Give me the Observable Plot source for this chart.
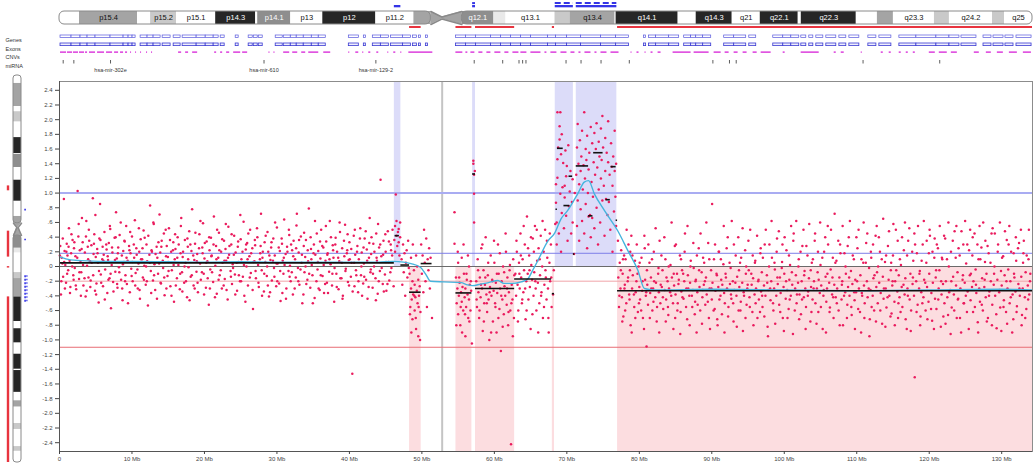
<!DOCTYPE html>
<html><head><meta charset="utf-8">
<script src="https://cdn.jsdelivr.net/npm/d3@7"></script>
<script src="https://cdn.jsdelivr.net/npm/@observablehq/plot@0.6"></script>
<style>
body{margin:0;background:#fff;}
#wrap{position:relative;width:1035px;height:469px;overflow:hidden;font-family:"Liberation Sans",Arial,sans-serif;}
#wrap svg{position:absolute;left:0;top:0;max-width:none;}
</style></head><body><div id="wrap"></div>
<script>
// ---------- DATA (genomic positions in Mb, log-ratio values) ----------
const chromLength = 134.25;
const centromereMb = 52.8;
const yTicks = [2.4,2.2,2.0,1.8,1.6,1.4,1.2,1.0,0.8,0.6,0.4,0.2,0,-0.2,-0.4,-0.6,-0.8,-1.0,-1.2,-1.4,-1.6,-1.8,-2.0,-2.2,-2.4];
const xTicks = [0,10,20,30,40,50,60,70,80,90,100,110,120,130];

// cytobands: [start, end, name, stain]
const bands = [
 [0,2.76,"","w"],[2.76,10.77,"p15.4","g50"],[10.77,12.57,"","w"],[12.57,16.16,"p15.2","g25"],
 [16.16,21.55,"p15.1","w"],[21.55,27.07,"p14.3","g100"],[27.07,27.35,"","w"],[27.35,31.91,"p14.1","g75"],
 [31.91,36.33,"p13","w"],[36.33,43.65,"p12","g100"],[43.65,48.90,"p11.2","w"],[48.90,51.24,"","g50"],
 [55.52,59.94,"q12.1","g75"],[59.94,61.60,"","g10"],[61.60,68.37,"q13.1","w"],[68.37,70.44,"","g25"],
 [70.44,76.66,"q13.4","g50"],[76.66,76.80,"","w"],[76.80,85.36,"q14.1","g100"],[85.36,87.85,"","w"],
 [87.85,92.82,"q14.3","g100"],[92.82,96.69,"q21","w"],[96.69,101.93,"q22.1","g100"],[101.93,102.35,"","w"],
 [102.35,109.94,"q22.3","g100"],[109.94,112.85,"","w"],[112.85,115.06,"","g50"],[115.06,120.72,"q23.3","w"],
 [120.72,122.79,"","g25"],[122.79,128.73,"q24.2","w"],[128.73,130.39,"","g25"],[130.39,134.25,"q25","w"]
];
const centromereBand = [51.24, 52.76, 55.52];

const gainRegions = [[46.2,47.1],[57.0,57.4],[68.4,70.9],[71.3,76.9]];
const lossRegions = [[48.3,49.9],[54.7,56.9],[57.4,62.8],[68.0,68.3],[77.0,134.25]];
const sideLoss = [[38.3,40.0],[54.0,63.0],[66.3,66.8],[76.8,134.25]];
const sideGain = [[46.4,47.0],[56.8,57.3],[69.5,79.0]];

// segment means: [start, end, value]
const segments = [
 [0,46.2,0.05],[46.3,46.9,0.42],[47.1,48.3,0.02],[48.3,49.9,-0.35],[49.9,51.4,0.04],
 [54.7,56.9,-0.36],[57.0,57.4,1.26],[57.4,62.8,-0.3],[62.8,67.9,-0.17],[68.0,68.3,-0.37],
 [68.5,68.7,0.78],[68.7,69.5,1.61],[69.6,70.4,0.83],[70.3,70.8,1.23],[70.9,71.1,0.17],
 [71.3,73.0,1.37],[73.0,73.6,0.69],[73.7,75.0,1.55],[75.4,76.0,0.91],[76.1,76.8,1.36],
 [76.8,77.0,0.63],[77.0,134.25,-0.33]
];

// smoothed trend
const smoothTrend = [
 [0,0.13],[1.5,0.09],[3,0.08],[6,0.07],[10,0.07],[15,0.065],[20,0.06],[25,0.065],[30,0.06],[35,0.06],
 [40,0.06],[44,0.06],[46,0.07],[47.5,0.06],[48.5,0.04],[49.8,-0.01],[50.5,-0.1],[51.2,-0.2],[53,-0.21],
 [55.4,-0.22],[56.3,-0.25],[57,-0.26],[58.1,-0.24],[59.2,-0.22],[60.5,-0.19],[61.3,-0.23],[62.5,-0.23],
 [63.7,-0.21],[64.6,-0.17],[65.3,-0.05],[66,0.08],[67.4,0.35],[68.3,0.45],[69.2,0.65],[70.1,0.76],
 [71.5,0.99],[72.4,1.15],[73,1.17],[73.8,0.99],[75.2,0.76],[77,0.49],[78.4,0.22],[79.8,-0.05],[80.7,-0.3],
 [82,-0.32],[90,-0.31],[100,-0.32],[110,-0.33],[120,-0.32],[130,-0.31],[134.2,-0.32]
];

// probes: [position, log ratio]
const probesPArm = [
[0.1,0.28],[0.2,-0.38],[0.3,0.12],[0.4,0.04],[0.5,-0.14],[0.6,0.92],[0.7,0.21],[0.8,0.02],[0.9,-0.22],
[1.0,0.31],[1.1,0.15],[1.2,-0.05],[1.3,0.52],[1.4,0.08],[1.5,-0.28],[1.6,0.18],[1.8,0.36],[1.9,-0.12],
[2.0,0.25],[2.1,-0.02],[2.2,0.14],[2.3,-0.31],[2.5,1.03],[2.6,0.41],[2.7,-0.17],[2.8,0.22],[2.9,0.06],
[3.0,-0.08],[3.1,0.66],[3.2,0.33],[3.3,-0.26],[3.5,0.19],[3.6,-0.41],[3.7,0.62],[3.8,0.01],[3.9,0.27],
[4.0,-0.15],[4.1,0.35],[4.2,0.07],[4.3,-0.19],[4.4,0.29],[4.6,0.93],[4.7,0.17],[4.8,0.44],[4.9,-0.33],
[5.0,0.13],[5.1,-0.23],[5.2,0.24],[5.3,0.05],[5.4,-0.49],[5.5,0.38],[5.6,0.85],[5.7,-0.11],[5.9,0.1],
[6.0,-0.27],[6.1,0.16],[6.2,0.47],[6.3,-0.04],[6.5,0.23],[6.6,-0.36],[6.7,0.09],[6.8,0.32],[6.9,-0.16],
[7.0,0.51],[7.1,-0.57],[7.2,0.02],[7.3,0.19],[7.4,-0.21],[7.6,0.39],[7.7,-0.07],[7.8,0.74],[7.9,0.11],
[8.0,-0.29],[8.1,0.26],[8.2,-0.01],[8.3,0.43],[8.5,-0.18],[8.6,0.15],[8.7,-0.46],[8.8,0.21],[8.9,0.06],
[9.0,0.34],[9.1,-0.12],[9.2,0.55],[9.3,-0.24],[9.4,0.08],[9.6,0.28],[9.7,-0.35],[9.8,0.18],[9.9,-0.03],
[10.0,0.41],[10.1,-0.2],[10.3,0.12],[10.4,0.63],[10.5,-0.09],[10.6,0.25],[10.8,-0.3],[10.9,0.04],
[11.0,0.2],[11.1,-0.44],[11.2,0.37],[11.4,0.1],[11.5,-0.15],[11.6,0.49],[11.7,0.01],[11.9,-0.25],
[12.0,0.3],[12.1,0.07],[12.2,-0.53],[12.4,0.16],[12.5,0.83],[12.6,-0.06],[12.7,0.22],[12.9,-0.19],
[13.0,0.58],[13.1,0.03],[13.2,-0.32],[13.4,0.27],[13.5,0.12],[13.6,-0.1],[13.8,0.71],[13.9,0.19],
[14.0,-0.23],[14.1,0.35],[14.3,-0.02],[14.4,0.45],[14.5,-0.39],[14.7,0.14],[14.8,0.28],[14.9,-0.13],
[15.0,0.06],[15.1,0.52],[15.3,-0.27],[15.4,0.2],[15.5,-0.05],[15.7,0.33],[15.8,-0.48],[15.9,0.1],
[16.0,0.24],[16.2,-0.16],[16.3,0.4],[16.4,0.02],[16.6,-0.31],[16.7,0.18],[16.8,0.66],[16.9,-0.08],
[17.0,0.13],[17.2,-0.22],[17.3,0.36],[17.4,0.05],[17.6,-0.42],[17.7,0.27],[17.8,-0.01],[17.9,0.48],
[18.1,-0.14],[18.2,0.21],[18.3,0.78],[18.5,-0.26],[18.6,0.09],[18.7,0.31],[18.9,-0.07],
[19.0,0.17],[19.1,-0.35],[19.3,0.44],[19.4,0.04],[19.5,-0.18],[19.7,0.26],[19.8,0.59],[19.9,-0.1],
[20.0,0.11],[20.2,-0.29],[20.3,0.34],[20.4,0.07],[20.6,-0.52],[20.7,0.22],[20.8,-0.04],[20.9,0.39],
[21.0,0.15],[21.2,-0.21],[21.3,0.68],[21.5,0.01],[21.6,0.28],[21.7,-0.37],[21.9,0.12],
[22.0,0.46],[22.1,-0.12],[22.3,0.2],[22.4,-0.3],[22.5,0.05],[22.7,0.35],[22.8,-0.17],[22.9,0.24],
[23.0,0.08],[23.2,-0.45],[23.3,0.54],[23.4,0.16],[23.6,-0.06],[23.7,0.3],[23.8,-0.24],[23.9,0.03],
[24.1,0.42],[24.2,-0.11],[24.3,0.19],[24.5,-0.33],[24.6,0.27],[24.7,0.06],[24.9,-0.2],
[25.0,0.37],[25.1,0.1],[25.3,-0.14],[25.4,0.61],[25.5,-0.4],[25.7,0.23],[25.8,0.0],[25.9,0.32],
[26.0,-0.26],[26.2,0.14],[26.3,0.5],[26.4,-0.09],[26.6,0.25],[26.7,-0.58],[26.9,0.07],
[27.0,0.29],[27.1,-0.16],[27.3,0.4],[27.4,0.02],[27.5,-0.28],[27.7,0.18],[27.8,0.72],[27.9,-0.05],
[28.0,0.12],[28.2,-0.34],[28.3,0.33],[28.4,0.06],[28.6,-0.13],[28.7,0.47],[28.8,0.2],[28.9,-0.41],
[29.1,0.09],[29.2,0.26],[29.3,-0.19],[29.5,0.38],[29.6,-0.02],[29.7,0.15],[29.9,-0.27],
[30.0,0.53],[30.1,0.04],[30.3,-0.23],[30.4,0.21],[30.5,-0.47],[30.7,0.31],[30.8,0.08],[30.9,-0.1],
[31.0,0.64],[31.2,0.17],[31.3,-0.3],[31.4,0.27],[31.6,-0.06],[31.7,0.43],[31.8,0.01],[31.9,-0.2],
[32.1,0.22],[32.2,-0.38],[32.3,0.35],[32.5,0.1],[32.6,-0.15],[32.7,0.56],[32.9,-0.02],
[33.0,0.19],[33.1,-0.25],[33.3,0.41],[33.4,0.05],[33.5,-0.5],[33.7,0.28],[33.8,-0.08],[33.9,0.13],
[34.0,0.36],[34.2,-0.18],[34.3,0.07],[34.4,0.79],[34.6,-0.29],[34.7,0.24],[34.8,0.02],[34.9,-0.12],
[35.1,0.3],[35.2,-0.43],[35.3,0.16],[35.5,0.45],[35.6,-0.04],[35.7,0.21],[35.9,-0.32],
[36.0,0.11],[36.1,0.5],[36.3,-0.13],[36.4,0.26],[36.5,-0.36],[36.7,0.08],[36.8,0.34],[36.9,-0.22],
[37.0,0.18],[37.2,-0.07],[37.3,0.62],[37.4,0.03],[37.6,-0.26],[37.7,0.29],[37.8,0.12],[37.9,-0.48],
[38.1,0.39],[38.2,-0.1],[38.3,0.2],[38.5,-0.31],[38.6,0.07],[38.7,0.47],[38.9,-0.16],
[39.0,0.25],[39.1,-0.4],[39.3,0.14],[39.4,0.57],[39.5,-0.03],[39.7,0.22],[39.8,-0.21],[39.9,0.09],
[40.0,0.33],[40.2,-0.14],[40.3,0.05],[40.4,-1.46],[40.6,0.42],[40.7,-0.27],[40.8,0.16],[40.9,-0.05],
[41.1,0.28],[41.2,-0.35],[41.3,0.1],[41.5,0.52],[41.6,-0.12],[41.7,0.19],[41.9,-0.23],
[42.0,0.04],[42.1,0.38],[42.3,-0.18],[42.4,0.23],[42.5,-0.44],[42.7,0.12],[42.8,0.66],[42.9,-0.08],
[43.0,0.17],[43.2,-0.29],[43.3,0.31],[43.4,0.0],[43.6,-0.16],[43.7,0.45],[43.8,0.08],[43.9,-0.37],
[44.1,0.26],[44.2,-0.06],[44.3,1.18],[44.4,0.14],[44.6,-0.24],[44.7,0.35],[44.9,-0.11],
[45.0,0.2],[45.1,-0.33],[45.3,0.48],[45.4,0.06],[45.5,-0.19],[45.7,0.3],[45.8,-0.02],[45.9,0.15],[46.1,-0.27]
];
const probesPArmExtra = [
[0.05,0.15],[0.25,-0.2],[0.45,0.38],[0.65,0.06],[0.75,-0.3],[0.95,0.2],
[1.05,-0.1],[1.25,0.27],[1.45,-0.36],[1.65,0.44],[1.75,0.0],[1.95,-0.18],
[2.05,0.33],[2.25,-0.26],[2.45,0.12],[2.65,0.58],[2.75,-0.08],[2.95,-0.4],
[3.05,0.24],[3.25,0.02],[3.45,-0.16],[3.65,0.41],[3.75,-0.33],[3.95,0.1],
[4.05,0.5],[4.25,-0.28],[4.45,0.05],[4.65,-0.12],[4.75,0.31],[4.95,0.7],
[5.05,-0.38],[5.25,0.18],[5.45,-0.06],[5.65,0.36],[5.75,-0.22],[5.95,0.27],
[6.05,0.08],[6.25,-0.45],[6.45,0.3],[6.65,0.14],[6.75,-0.18],[6.95,0.55],
[7.05,-0.1],[7.25,0.26],[7.45,-0.34],[7.65,0.09],[7.75,0.4],[7.95,-0.24],
[8.05,0.18],[8.25,-0.08],[8.45,0.6],[8.65,-0.3],[8.75,0.03],[8.95,0.35],
[9.05,-0.2],[9.25,0.12],[9.45,-0.5],[9.65,0.22],[9.75,0.47],[9.95,-0.13],
[10.05,0.06],[10.25,0.3],[10.45,-0.26],[10.65,0.16],[10.75,-0.04],[10.95,0.52],
[11.05,-0.32],[11.25,0.1],[11.45,0.25],[11.65,-0.18],[11.75,0.39],[11.95,0.0],
[12.05,-0.2],[12.25,0.42],[12.45,0.05],[12.65,-0.36],[12.75,0.2],[12.95,0.6],
[13.05,-0.12],[13.25,0.17],[13.45,-0.44],[13.65,0.33],[13.75,0.04],[13.95,-0.22],
[14.05,0.27],[14.25,0.08],[14.45,-0.15],[14.65,0.5],[14.75,-0.3],[14.95,0.13],
[15.05,-0.06],[15.25,0.36],[15.45,-0.4],[15.65,0.22],[15.75,0.02],[15.95,0.44],
[16.05,-0.26],[16.25,0.12],[16.45,0.3],[16.65,-0.1],[16.75,0.55],[16.95,-0.34],
[17.05,0.2],[17.25,0.0],[17.45,-0.2],[17.65,0.38],[17.75,0.1],[17.95,-0.46],
[18.05,0.3],[18.25,-0.12],[18.45,0.15],[18.65,-0.3],[18.75,0.46],[18.95,0.07],
[19.05,-0.22],[19.25,0.25],[19.45,0.62],[19.65,-0.08],[19.75,0.18],[19.95,-0.38],
[20.05,0.32],[20.25,0.05],[20.45,-0.16],[20.65,0.4],[20.75,-0.3],[20.95,0.14],
[21.05,-0.08],[21.25,0.3],[21.45,-0.42],[21.65,0.1],[21.75,0.5],[21.95,-0.18],
[22.05,0.22],[22.25,-0.05],[22.45,0.37],[22.65,-0.26],[22.75,0.08],[22.95,0.58],
[23.05,-0.32],[23.25,0.12],[23.45,0.28],[23.65,-0.14],[23.75,0.44],[23.95,-0.02],
[24.05,0.16],[24.25,-0.38],[24.45,0.05],[24.65,0.34],[24.75,-0.12],[24.95,0.7],
[25.05,-0.2],[25.25,0.2],[25.45,0.02],[25.65,-0.48],[25.75,0.3],[25.95,0.1],
[26.05,0.45],[26.25,-0.15],[26.45,0.18],[26.65,-0.32],[26.75,0.06],[26.95,0.36],
[27.05,-0.06],[27.25,0.52],[27.45,-0.22],[27.65,0.1],[27.75,0.28],[27.95,-0.4],
[28.05,0.2],[28.25,-0.1],[28.45,0.42],[28.65,0.0],[28.75,-0.26],[28.95,0.15],
[29.05,-0.35],[29.25,0.33],[29.45,0.08],[29.65,-0.14],[29.75,0.6],[29.95,0.04],
[30.05,-0.2],[30.25,0.26],[30.45,-0.06],[30.65,0.38],[30.75,-0.36],[30.95,0.12],
[31.05,0.02],[31.25,-0.44],[31.45,0.2],[31.65,0.5],[31.75,-0.14],[31.95,0.3],
[32.05,-0.08],[32.25,0.14],[32.45,-0.3],[32.65,0.25],[32.75,0.72],[32.95,-0.2],
[33.05,0.36],[33.25,-0.04],[33.45,0.16],[33.65,-0.38],[33.75,0.46],[33.95,0.0],
[34.05,-0.24],[34.25,0.22],[34.45,-0.1],[34.65,0.4],[34.75,0.1],[34.95,-0.5],
[35.05,0.18],[35.25,0.62],[35.45,-0.2],[35.65,0.06],[35.75,-0.3],[35.95,0.34],
[36.05,-0.12],[36.25,0.28],[36.45,0.02],[36.65,-0.24],[36.75,0.55],[36.95,0.16],
[37.05,-0.36],[37.25,0.1],[37.45,0.4],[37.65,-0.1],[37.75,0.22],[37.95,-0.02],
[38.05,0.3],[38.25,-0.28],[38.45,0.12],[38.65,0.6],[38.75,-0.16],[38.95,0.05],
[39.05,-0.44],[39.25,0.35],[39.45,-0.06],[39.65,0.18],[39.75,0.44],[39.95,-0.26],
[40.05,0.1],[40.25,0.24],[40.45,-0.34],[40.65,0.05],[40.75,0.5],[40.95,-0.12],
[41.05,0.2],[41.25,-0.2],[41.45,0.38],[41.65,0.0],[41.75,-0.4],[41.95,0.26],
[42.05,-0.14],[42.25,0.48],[42.45,0.08],[42.65,-0.28],[42.75,0.32],[42.95,-0.04],
[43.05,0.4],[43.25,-0.1],[43.45,0.2],[43.65,-0.46],[43.75,0.12],[43.95,0.58],
[44.05,-0.2],[44.25,0.3],[44.45,-0.02],[44.65,0.16],[44.75,-0.34],[44.95,0.44],
[45.05,0.06],[45.25,-0.24],[45.45,0.34],[45.65,-0.08],[45.75,0.22],[45.95,0.5]
];
const probesPericentric = [
[46.2,0.36],[46.3,0.55],[46.3,0.2],[46.4,0.98],[46.5,0.42],[46.5,0.62],[46.6,0.28],[46.7,0.47],[46.8,0.33],[46.8,0.51],[46.9,0.15],[47.0,0.4],[47.0,0.6],
[47.2,0.1],[47.3,-0.25],[47.4,0.3],[47.5,-0.08],[47.6,0.18],[47.7,-0.4],[47.8,0.05],[47.9,0.22],[48.0,-0.15],[48.1,0.35],[48.2,-0.02],
[48.3,-0.1],[48.4,-0.55],[48.5,-0.3],[48.5,0.12],[48.6,-0.45],[48.7,-0.2],[48.7,-0.72],[48.8,-0.38],[48.9,-0.05],[49.0,-0.6],[49.0,-0.25],[49.1,-0.42],[49.2,0.15],[49.2,-0.85],[49.3,-0.33],[49.4,-0.5],[49.5,-0.18],[49.5,-0.95],[49.6,-0.4],[49.7,-0.27],[49.8,-0.62],
[48.35,-0.65],[48.55,-0.9],[48.75,0.3],[48.95,-0.4],[49.15,-0.7],[49.35,0.0],[49.55,-0.55],[49.75,-1.0],
[49.9,0.3],[50.0,-0.1],[50.1,0.15],[50.2,-0.35],[50.3,0.5],[50.4,0.05],[50.5,-0.2],[50.6,0.38],[50.7,-0.55],[50.8,0.1],[50.9,-0.05],[51.0,0.25],[51.1,-0.3],[51.2,0.12],[51.4,-0.7],
[54.5,0.74],[54.5,0.31],
[54.7,-0.15],[54.8,-0.5],[54.9,-0.3],[55.0,0.05],[55.0,-0.65],[55.1,-0.4],[55.2,-0.22],[55.3,-0.8],[55.4,-0.35],[55.5,0.12],[55.5,-0.48],[55.6,-0.28],[55.7,-0.6],[55.8,-0.1],[55.9,-0.42],[56.0,-0.95],[56.0,-0.3],[56.1,-0.55],[56.2,-0.18],[56.3,-0.38],[56.4,-0.7],[56.5,0.0],[56.5,-0.45],[56.6,-0.25],[56.7,-0.6],[56.8,-0.33],[56.9,-1.05],
[54.75,-0.8],[54.95,0.2],[55.15,-0.15],[55.35,-0.55],[55.55,-0.9],[55.75,0.3],[55.95,-0.65],[56.15,-0.1],[56.35,0.15],[56.55,-0.75],[56.75,-0.2],
[57.1,1.44],[57.1,1.4],[57.2,1.25],[57.2,0.99],[57.2,0.6],[57.3,1.3]
];
const probesQProximal = [
[57.5,-0.2],[57.6,-0.55],[57.7,0.1],[57.8,-0.35],[57.9,-0.7],[58.0,-0.15],[58.1,-0.42],[58.2,0.25],[58.3,-0.3],[58.4,-0.88],[58.5,-0.05],[58.6,-0.5],[58.7,-0.25],[58.8,0.4],[58.9,-0.38],[59.0,-0.62],[59.1,-0.12],[59.2,-0.45],[59.3,-1.0],[59.4,-0.28],[59.5,0.15],[59.6,-0.4],[59.7,-0.18],[59.8,-0.75],[59.9,-0.33],[60.0,0.05],[60.1,-0.5],[60.2,-0.22],[60.3,-0.9],[60.4,-0.36],[60.5,0.3],[60.6,-0.1],[60.7,-0.58],[60.8,-0.3],[60.9,-1.15],[61.0,-0.2],[61.1,-0.45],[61.2,0.0],[61.3,-0.65],[61.4,-0.27],[61.5,-0.4],[61.6,0.2],[61.7,-0.52],[61.8,-0.15],[61.9,-0.8],[62.0,-0.35],[62.1,-0.05],[62.2,-0.6],[62.3,-2.42],[62.4,-0.25],[62.5,-0.45],[62.6,0.1],[62.7,-0.7],
[57.55,-0.45],[57.75,-0.05],[57.95,-0.6],[58.15,-0.25],[58.35,0.3],[58.55,-0.75],[58.75,-0.15],[58.95,-0.5],[59.15,0.05],[59.35,-0.35],[59.55,-0.9],[59.75,-0.2],[59.95,0.35],[60.15,-0.55],[60.35,-0.1],[60.55,-0.7],[60.75,0.18],[60.95,-0.4],[61.15,-0.82],[61.35,-0.08],[61.55,0.45],[61.75,-0.3],[61.95,-0.62],[62.15,0.02],[62.35,-0.5],[62.55,-0.95],[62.75,-0.12],
[62.9,-0.1],[63.0,-0.4],[63.1,0.2],[63.2,-0.25],[63.3,-0.6],[63.4,0.05],[63.5,-0.3],[63.6,0.45],[63.7,-0.15],[63.8,-0.5],[63.9,0.1],[64.0,-0.35],[64.1,-0.05],[64.2,0.3],[64.3,-0.72],[64.4,-0.2],[64.5,0.68],[64.6,-0.1],[64.7,-0.45],[64.8,0.15],[64.9,-0.28],[65.0,-0.85],[65.1,0.02],[65.2,-0.18],[65.3,0.38],[65.4,-0.4],[65.5,-0.08],[65.6,0.55],[65.7,-0.3],[65.8,-0.6],[65.9,0.08],[66.0,-0.22],[66.1,0.25],[66.2,-0.5],[66.3,-0.12],[66.4,0.42],[66.5,-0.35],[66.6,0.0],[66.7,-0.7],[66.8,0.2],[66.9,-0.25],[67.0,0.5],[67.1,-0.15],[67.2,-0.45],[67.3,0.12],[67.4,-0.3],[67.5,-0.9],[67.6,0.05],[67.7,-0.2],[67.8,0.3],[67.9,-0.55],
[63.05,0.35],[63.25,-0.75],[63.45,-0.1],[63.65,0.15],[63.85,-0.45],[64.05,0.55],[64.25,-0.3],[64.45,-0.6],[64.65,0.25],[64.85,-0.05],[65.05,0.4],[65.25,-0.65],[65.45,0.2],[65.65,-0.2],[65.85,0.5],[66.05,-0.9],[66.25,0.1],[66.45,-0.4],[66.65,0.62],[66.85,-0.55],[67.05,-0.05],[67.25,0.35],[67.45,-0.7],[67.65,0.45],[67.85,-0.15],
[68.1,-0.38],[68.2,-0.05]
];
const probesAmplicon = [
[68.4,0.58],[68.5,1.12],[68.5,0.87],[68.6,0.6],[68.6,0.3],[68.7,2.1],[68.7,1.46],[68.7,1.21],[68.8,1.62],[68.9,0.45],[69.0,1.91],[69.0,1.73],[69.1,2.1],[69.1,0.99],[69.2,1.53],[69.2,0.2],[69.3,1.8],[69.3,0.73],[69.4,1.08],[69.5,1.41],[69.6,0.52],[69.7,1.1],[69.7,0.94],[69.8,1.58],[69.9,1.23],[69.9,0.69],[70.0,1.37],[70.1,0.35],[70.2,1.65],[70.3,0.82],[70.4,1.02],[70.5,1.3],[70.6,0.45],[70.7,0.88],[70.8,1.19],[70.8,0.6],
[71.0,0.17],[71.1,1.0],
[71.3,1.25],[71.4,0.55],[71.4,1.62],[71.5,1.94],[71.5,0.9],[71.6,1.4],[71.7,0.35],[71.7,1.12],[71.8,1.72],[71.9,0.78],[71.9,1.3],[72.0,1.5],[72.1,0.62],[72.1,1.85],[72.2,1.05],[72.3,1.38],[72.4,2.1],[72.4,0.45],[72.5,1.2],[72.6,1.6],[72.6,0.85],[72.7,1.45],[72.8,0.25],[72.8,1.78],[72.9,1.0],[73.0,0.68],[73.0,1.32],[73.1,1.55],[73.2,0.7],[73.3,1.9],[73.3,0.4],[73.4,1.15],[73.5,0.66],[73.5,1.68],[73.6,0.95],[73.7,1.42],[73.8,1.82],[73.8,0.52],[73.9,1.25],[74.0,1.6],[74.1,0.8],[74.1,1.95],[74.2,1.35],[74.3,0.3],[74.4,1.7],[74.4,1.05],[74.5,1.5],[74.6,0.6],[74.7,1.88],[74.7,1.2],[74.8,1.45],[74.9,2.05],[74.9,0.9],[75.0,1.62],[75.1,1.1],[75.2,0.42],[75.3,1.75],[75.3,1.3],[75.4,0.92],[75.5,1.55],[75.6,0.7],[75.7,1.42],[75.7,1.98],[75.8,0.88],[75.9,1.25],[76.0,0.5],[76.1,1.68],[76.2,1.36],[76.3,0.2],[76.3,1.1],[76.4,1.5],[76.5,0.75],[76.6,1.85],[76.6,1.3],[76.7,0.95],[76.8,0.55],[76.8,1.4]
];
const probesQDistal = [
[77.1,-0.15],[77.2,-0.55],[77.3,0.05],[77.4,-0.3],[77.5,0.22],[77.6,-0.42],[77.7,-0.1],[77.8,-0.68],[77.9,0.15],
[78.0,-0.25],[78.1,0.1],[78.2,-0.5],[78.4,-0.2],[78.5,0.3],[78.6,-0.38],[78.7,-0.05],[78.8,-0.8],[78.9,0.42],
[79.0,-0.3],[79.1,-0.12],[79.3,-0.55],[79.4,0.08],[79.5,-0.35],[79.6,-0.2],[79.8,-0.62],[79.9,0.0],
[80.0,-0.28],[80.1,-0.45],[80.3,0.12],[80.4,-0.33],[80.5,-0.7],[80.7,0.42],[80.8,-0.18],[80.9,-0.4],
[81.0,-1.09],[81.1,-0.25],[81.2,-0.52],[81.4,0.05],[81.5,-0.36],[81.6,-0.15],[81.8,-0.6],[81.9,-0.3],
[82.0,0.2],[82.2,-0.42],[82.3,-0.22],[82.4,-0.75],[82.6,-0.1],[82.7,-0.35],[82.8,0.35],[82.9,-0.5],
[83.1,-0.28],[83.2,-0.05],[83.3,-0.58],[83.5,-0.32],[83.6,0.1],[83.7,-0.45],[83.9,-0.2],
[84.0,-0.66],[84.1,-0.3],[84.3,0.02],[84.4,-0.4],[84.5,-0.15],[84.7,-0.85],[84.8,-0.26],[84.9,0.28],
[85.0,-0.38],[85.2,-0.1],[85.3,-0.5],[85.4,-0.24],[85.6,0.15],[85.7,-0.62],[85.8,-0.34],[85.9,-0.05],
[86.1,-0.44],[86.2,-0.2],[86.3,0.45],[86.5,-0.3],[86.6,-0.72],[86.7,-0.12],[86.9,-0.4],
[87.0,-0.22],[87.1,0.08],[87.3,-0.55],[87.4,-0.32],[87.5,-0.02],[87.7,-0.48],[87.8,-0.18],[87.9,-0.9],
[88.0,-0.35],[88.2,0.25],[88.3,-0.28],[88.4,-0.6],[88.6,-0.08],[88.7,-0.42],[88.8,0.12],[88.9,-0.25],
[89.1,-0.52],[89.2,-0.15],[89.3,-0.38],[89.5,0.32],[89.6,-0.7],[89.7,-0.3],[89.9,-0.05],
[90.0,-0.45],[90.1,-0.22],[90.3,0.1],[90.4,-0.58],[90.5,-0.33],[90.7,-0.12],[90.8,-0.8],[90.9,-0.28],
[91.0,0.2],[91.2,-0.4],[91.3,-0.18],[91.4,-0.65],[91.6,0.03],[91.7,-0.36],[91.8,-0.5],[91.9,-0.1],
[92.1,-0.3],[92.2,0.4],[92.3,-0.55],[92.5,-0.24],[92.6,-0.02],[92.7,-0.44],[92.9,-0.2],
[93.0,-0.75],[93.1,-0.32],[93.3,0.15],[93.4,-0.4],[93.5,-0.14],[93.7,-0.6],[93.8,-0.28],[93.9,0.05],
[94.0,-0.48],[94.2,-0.22],[94.3,-0.88],[94.4,-0.35],[94.6,0.22],[94.7,-0.1],[94.8,-0.52],[94.9,-0.3],
[95.1,-0.05],[95.2,-0.42],[95.3,0.5],[95.5,-0.25],[95.6,-0.62],[95.7,-0.16],[95.9,-0.38],
[96.0,0.08],[96.1,-0.3],[96.3,-0.7],[96.4,-0.2],[96.5,-0.45],[96.7,0.18],[96.8,-0.34],[96.9,-0.08],
[97.0,-0.55],[97.2,-0.26],[97.3,0.3],[97.4,-0.4],[97.6,-0.12],[97.7,-0.82],[97.8,-0.32],[97.9,0.0],
[98.1,-0.46],[98.2,-0.2],[98.3,0.12],[98.5,-0.6],[98.6,-0.3],[98.7,-0.04],[98.9,-0.4],
[99.0,0.38],[99.1,-0.24],[99.3,-0.52],[99.4,-0.15],[99.5,-0.36],[99.7,0.06],[99.8,-0.7],[99.9,-0.28],
[100.0,-0.1],[100.2,-0.44],[100.3,0.22],[100.4,-0.32],[100.6,-0.58],[100.7,-0.18],[100.8,0.02],[100.9,-0.4],
[101.1,-0.25],[101.2,-0.92],[101.3,0.45],[101.5,-0.3],[101.6,-0.12],[101.7,-0.5],[101.9,-0.22],
[102.0,0.1],[102.1,-0.38],[102.3,-0.65],[102.4,-0.2],[102.5,0.28],[102.7,-0.42],[102.8,-0.06],[102.9,-0.3],
[103.0,-0.55],[103.2,0.15],[103.3,-0.34],[103.4,-0.16],[103.6,-0.75],[103.7,-0.28],[103.8,0.05],[103.9,-0.45],
[104.1,-0.2],[104.2,0.35],[104.3,-0.5],[104.5,-0.3],[104.6,-0.08],[104.7,-0.62],[104.9,-0.36],
[105.0,0.02],[105.1,-0.26],[105.3,-0.85],[105.4,-0.4],[105.5,0.2],[105.7,-0.14],[105.8,-0.48],[105.9,-0.3],
[106.0,0.55],[106.2,-0.22],[106.3,-0.56],[106.4,-0.04],[106.6,-0.38],[106.7,0.12],[106.8,-0.7],[106.9,-0.25],
[107.1,-0.42],[107.2,0.08],[107.3,-0.3],[107.5,-0.6],[107.6,-0.15],[107.7,0.3],[107.9,-0.45],
[108.0,-0.2],[108.1,-0.8],[108.3,0.18],[108.4,-0.35],[108.5,-0.1],[108.7,-0.52],[108.8,-0.28],[108.9,0.4],
[109.0,-0.4],[109.2,-0.06],[109.3,-0.66],[109.4,-0.24],[109.6,0.1],[109.7,-0.46],[109.8,-0.18],[109.9,-0.35],
[110.1,0.25],[110.2,-0.58],[110.3,-0.3],[110.5,-0.12],[110.6,-0.9],[110.7,-0.36],[110.9,0.05],
[111.0,-0.26],[111.1,-0.5],[111.3,0.32],[111.4,-0.2],[111.5,-0.42],[111.7,-0.02],[111.8,-0.72],[111.9,-0.32],
[112.0,0.12],[112.2,-0.4],[112.3,-0.16],[112.4,-0.6],[112.6,0.42],[112.7,-0.28],[112.8,-0.08],[112.9,-0.5],
[113.1,-0.22],[113.2,0.2],[113.3,-0.36],[113.5,-0.78],[113.6,-0.14],[113.7,-0.44],[113.9,0.06],
[114.0,-0.3],[114.1,-0.56],[114.3,0.28],[114.4,-0.18],[114.5,-0.4],[114.7,-0.05],[114.8,-0.64],[114.9,-0.26],
[115.0,0.15],[115.2,-0.48],[115.3,-0.2],[115.4,0.5],[115.6,-0.34],[115.7,-0.7],[115.8,-0.12],[115.9,-0.42],
[116.1,0.02],[116.2,-0.28],[116.3,-0.55],[116.5,0.22],[116.6,-0.38],[116.7,-0.16],[116.9,-0.85],
[117.0,-0.3],[117.1,0.35],[117.3,-0.45],[117.4,-0.1],[117.5,-0.6],[117.7,-0.24],[117.8,0.08],[117.9,-0.4],
[118.0,-1.51],[118.2,-0.2],[118.3,0.18],[118.4,-0.52],[118.6,-0.3],[118.7,-0.06],[118.8,-0.68],[118.9,-0.35],
[119.1,0.3],[119.2,-0.42],[119.3,-0.18],[119.5,-0.6],[119.6,0.05],[119.7,-0.28],[119.9,-0.48],
[120.0,-0.1],[120.1,0.42],[120.3,-0.36],[120.4,-0.74],[120.5,-0.22],[120.7,0.12],[120.8,-0.44],[120.9,-0.15],
[121.0,-0.58],[121.2,0.25],[121.3,-0.3],[121.4,-0.05],[121.6,-0.82],[121.7,-0.38],[121.8,0.1],[121.9,-0.24],
[122.1,-0.5],[122.2,0.38],[122.3,-0.2],[122.5,-0.42],[122.6,-0.66],[122.7,0.0],[122.9,-0.32],
[123.0,0.2],[123.1,-0.56],[123.3,-0.14],[123.4,-0.38],[123.5,0.48],[123.7,-0.26],[123.8,-0.7],[123.9,-0.08],
[124.0,-0.44],[124.2,0.15],[124.3,-0.3],[124.4,-0.9],[124.6,-0.18],[124.7,0.3],[124.8,-0.5],[124.9,-0.22],
[125.1,0.04],[125.2,-0.62],[125.3,-0.34],[125.5,0.22],[125.6,-0.12],[125.7,-0.46],[125.9,-0.28],
[126.0,0.4],[126.1,-0.2],[126.3,-0.55],[126.4,-0.04],[126.5,-0.36],[126.7,-0.76],[126.8,0.1],[126.9,-0.3],
[127.0,-0.48],[127.2,0.26],[127.3,-0.16],[127.4,-0.6],[127.6,-0.28],[127.7,0.06],[127.8,-0.42],[127.9,-0.1],
[128.1,-0.7],[128.2,0.18],[128.3,-0.34],[128.5,-0.2],[128.6,0.45],[128.7,-0.52],[128.9,-0.25],
[129.0,0.0],[129.1,-0.4],[129.3,-0.84],[129.4,-0.18],[129.5,0.3],[129.7,-0.32],[129.8,-0.56],[129.9,-0.06],
[130.0,-0.26],[130.2,0.14],[130.3,-0.46],[130.4,-0.12],[130.6,-0.62],[130.7,0.36],[130.8,-0.3],[130.9,-0.04],
[131.1,-0.5],[131.2,-0.2],[131.3,0.2],[131.5,-0.38],[131.6,-0.72],[131.7,-0.1],[131.9,-0.34],
[132.0,0.08],[132.1,-0.54],[132.3,-0.24],[132.4,0.32],[132.5,-0.4],[132.7,-0.14],[132.8,-0.66],[132.9,-0.3],
[133.0,0.18],[133.2,-0.42],[133.3,-0.08],[133.4,-0.58],[133.6,-0.26],[133.7,0.1],[133.8,-0.38],[133.9,-0.2]
];
const probesQDistalExtra = [
[77.05,0.35],[77.25,-0.4],[77.45,-0.05],[77.65,-0.75],[77.75,0.1],[77.95,-0.3],
[78.05,-0.6],[78.25,0.5],[78.45,-0.15],[78.65,-0.45],[78.75,0.2],[78.95,-0.9],
[79.05,0.15],[79.25,-0.38],[79.45,-0.7],[79.65,0.3],[79.75,-0.1],[79.95,-0.5],
[80.05,0.05],[80.25,-0.6],[80.45,-0.2],[80.65,-0.85],[80.75,0.25],[80.95,-0.35],
[81.05,-0.05],[81.25,0.3],[81.45,-0.7],[81.65,-0.3],[81.75,0.1],[81.95,-0.48],
[82.05,-0.2],[82.25,0.52],[82.45,-0.55],[82.65,-0.02],[82.75,-0.9],[82.95,-0.25],
[83.05,0.15],[83.25,-0.42],[83.45,0.4],[83.65,-0.75],[83.75,-0.15],[83.95,-0.55],
[84.05,0.0],[84.25,-0.35],[84.45,0.6],[84.65,-0.5],[84.75,-0.1],[84.95,-0.7],
[85.05,0.3],[85.25,-0.6],[85.45,-0.18],[85.65,-0.92],[85.75,0.1],[85.95,-0.42],
[86.05,-0.1],[86.25,0.2],[86.45,-0.55],[86.65,0.55],[86.75,-0.3],[86.95,-0.8],
[87.05,0.0],[87.25,-0.4],[87.45,0.32],[87.65,-0.65],[87.75,-0.2],[87.95,0.15],
[88.05,-0.52],[88.25,-0.05],[88.45,0.45],[88.65,-0.78],[88.75,-0.32],[88.95,0.05],
[89.05,-0.2],[89.25,0.6],[89.45,-0.48],[89.65,0.1],[89.75,-0.85],[89.95,-0.3],
[90.05,0.85],[90.25,-0.6],[90.45,0.3],[90.65,-0.1],[90.75,-0.72],[90.95,0.2],
[91.05,-0.45],[91.25,0.1],[91.45,-0.25],[91.65,0.55],[91.75,-0.9],[91.95,-0.15],
[92.05,0.25],[92.25,-0.68],[92.45,0.05],[92.65,-0.38],[92.75,0.62],[92.95,-0.5],
[93.05,0.3],[93.25,-0.22],[93.45,-0.82],[93.65,0.4],[93.75,-0.05],[93.95,-0.6],
[94.05,0.12],[94.25,0.52],[94.45,-0.4],[94.65,-0.7],[94.75,0.0],[94.95,-0.25],
[95.05,0.35],[95.25,-0.55],[95.45,-0.1],[95.65,0.15],[95.75,-0.8],[95.95,0.05],
[96.05,-0.5],[96.25,0.42],[96.45,-0.18],[96.65,-0.62],[96.75,0.25],[96.95,-0.4],
[97.05,0.12],[97.25,-0.68],[97.45,0.5],[97.65,-0.22],[97.75,-0.95],[97.95,0.3],
[98.05,-0.3],[98.25,0.62],[98.45,-0.5],[98.65,0.05],[98.75,-0.78],[98.95,0.2],
[99.05,-0.15],[99.25,0.48],[99.45,-0.62],[99.65,-0.02],[99.75,0.3],[99.95,-0.88],
[100.05,0.4],[100.25,-0.2],[100.45,-0.7],[100.65,0.15],[100.75,-0.45],[100.95,0.55],
[101.05,-0.08],[101.25,0.35],[101.45,-0.6],[101.65,0.62],[101.75,-0.38],[101.95,0.0],
[102.05,-0.72],[102.25,0.2],[102.45,-0.45],[102.65,0.5],[102.75,-0.12],[102.95,-0.85],
[103.05,0.28],[103.25,-0.4],[103.45,0.58],[103.65,-0.05],[103.75,-0.62],[103.95,0.1],
[104.05,-0.3],[104.25,0.45],[104.45,-0.78],[104.65,0.2],[104.75,-0.18],[104.95,0.6],
[105.05,-0.55],[105.25,0.12],[105.45,-0.32],[105.65,0.4],[105.75,-0.9],[105.95,-0.1],
[106.05,0.3],[106.25,-0.62],[106.45,0.5],[106.65,-0.15],[106.75,-0.42],[106.95,0.72],
[107.05,0.05],[107.25,-0.5],[107.45,0.35],[107.65,-0.8],[107.75,0.18],[107.95,-0.25],
[108.05,0.55],[108.25,-0.4],[108.45,0.0],[108.65,-0.7],[108.75,0.28],[108.95,-0.15],
[109.05,0.62],[109.25,-0.55],[109.45,0.15],[109.65,-0.35],[109.75,-0.85],[109.95,0.4],
[110.05,-0.2],[110.25,0.5],[110.45,-0.62],[110.65,0.1],[110.75,-0.4],[110.95,0.6],
[111.05,-0.7],[111.25,0.05],[111.45,0.45],[111.65,-0.3],[111.75,-0.95],[111.95,0.2],
[112.05,-0.55],[112.25,0.3],[112.45,-0.12],[112.65,-0.75],[112.75,0.55],[112.95,0.0],
[113.05,0.4],[113.25,-0.6],[113.45,0.1],[113.65,0.65],[113.75,-0.3],[113.95,-0.82],
[114.05,0.15],[114.25,-0.42],[114.45,0.48],[114.65,-0.68],[114.75,0.05],[114.95,-0.2],
[115.05,0.58],[115.25,-0.8],[115.45,-0.05],[115.65,0.35],[115.75,-0.5],[115.95,0.1],
[116.05,-0.62],[116.25,0.4],[116.45,-0.25],[116.65,0.6],[116.75,-0.72],[116.95,0.15],
[117.05,-0.4],[117.25,0.52],[117.45,-0.88],[117.65,0.2],[117.75,-0.15],[117.95,0.45],
[118.05,0.3],[118.25,-0.62],[118.45,0.55],[118.65,-0.1],[118.75,-0.8],[118.95,0.08],
[119.05,-0.5],[119.25,0.62],[119.45,-0.22],[119.65,0.35],[119.75,-0.72],[119.95,0.18],
[120.05,0.5],[120.25,-0.58],[120.45,0.2],[120.65,-0.85],[120.75,0.38],[120.95,-0.05],
[121.05,0.3],[121.25,-0.45],[121.45,0.55],[121.65,-0.2],[121.75,0.12],[121.95,-0.68],
[122.05,0.42],[122.25,-0.78],[122.45,0.1],[122.65,0.6],[122.75,-0.35],[122.95,-0.92],
[123.05,-0.2],[123.25,0.35],[123.45,-0.6],[123.65,0.12],[123.75,0.55],[123.95,-0.45],
[124.05,0.25],[124.25,-0.7],[124.45,0.48],[124.65,-0.12],[124.75,-0.5],[124.95,0.62],
[125.05,-0.4],[125.25,0.3],[125.45,-0.85],[125.65,0.5],[125.75,-0.1],[125.95,0.15],
[126.05,-0.62],[126.25,0.45],[126.45,-0.25],[126.65,0.3],[126.75,-0.9],[126.95,0.55],
[127.05,0.1],[127.25,-0.52],[127.45,0.6],[127.65,-0.18],[127.75,0.35],[127.95,-0.75],
[128.05,0.28],[128.25,-0.4],[128.45,0.05],[128.65,-0.8],[128.75,0.52],[128.95,-0.1],
[129.05,0.45],[129.25,-0.65],[129.45,0.2],[129.65,-0.35],[129.75,0.6],[129.95,-0.88],
[130.05,0.12],[130.25,-0.55],[130.45,0.48],[130.65,-0.2],[130.75,-0.78],[130.95,0.3],
[131.05,0.55],[131.25,-0.42],[131.45,-0.9],[131.65,0.18],[131.75,-0.15],[131.95,0.4],
[132.05,-0.62],[132.25,0.25],[132.45,-0.3],[132.65,0.5],[132.75,-0.8],[132.95,0.05],
[133.05,0.35],[133.25,-0.7],[133.45,0.15],[133.65,-0.45],[133.75,0.5],[133.95,-0.1]
];

// annotation tracks
const genes = [
[0.14,1.66],[1.66,2.9],[2.9,3.87],[3.87,4.97],[4.97,7.04],[7.04,8.84],[8.84,9.53],[9.53,10.08],[10.08,10.5],
[11.19,12.15],[12.15,12.98],[12.98,13.95],[14.23,15.33],
[15.75,16.71],[16.99,18.92],[18.92,20.17],[20.17,21.27],[21.27,21.96],
[22.24,22.79],[24.31,24.72],[26.1,26.66],[26.8,27.35],[27.49,28.04],
[29.83,30.8],[30.94,31.91],[31.91,32.73],[32.73,33.7],[33.7,34.81],[34.81,35.77],[35.77,36.74],
[39.92,41.3],[41.99,42.27],
[43.23,44.34],[44.34,45.44],[45.72,47.38],[47.38,48.48],[48.76,49.31],[49.59,49.86],[50.55,50.83],
[54.7,56.08],[56.08,57.46],[57.46,59.53],[59.53,60.91],[60.91,62.29],[62.29,63.67],
[63.67,65.06],[65.06,67.4],[67.4,68.51],[68.51,70.03],[70.03,71.96],[71.96,74.72],[74.72,76.8],[76.8,78.59],
[80.66,80.94],[81.35,82.32],[82.32,84.12],[84.12,85.5],
[86.19,87.15],[87.15,87.85],[87.85,88.81],[88.81,89.92],
[91.71,93.09],[93.09,94.75],[95.17,96.13],
[98.48,99.86],[99.86,100.97],[100.97,102.07],[102.35,103.04],[103.45,104.01],[104.42,105.39],[105.8,107.18],[107.6,108.56],[108.98,110.36],
[111.6,112.71],[113.12,114.78],
[115.88,118.23],[118.23,120.99],[120.99,122.79],[122.79,124.17],[124.45,126.52],
[127.49,128.59],[128.87,130.25],[130.52,131.63],[132.04,134.12]
];
const cnvs = [
[0.14,0.97],[1.1,1.8],[1.93,2.62],[2.76,3.45],[3.59,3.87],[4.14,4.97],[5.25,6.21],[6.49,7.32],[7.6,8.15],[8.42,8.84],[9.11,9.39],
[9.81,9.94],[10.5,10.63],[11.19,11.32],[12.01,12.15],[12.7,12.84],
[16.43,16.85],[17.4,17.81],[18.37,19.06],[21.41,21.68],[22.23,22.51],[23.06,23.48],[24.03,25.0],[25.27,25.96],
[28.9,29.04],[29.59,29.73],[30.93,31.76],[32.18,32.87],[33.42,33.97],[34.39,35.77],[36.46,37.42],
[39.91,40.05],[40.88,41.29],[41.84,41.98],[42.67,42.95],[43.78,44.05],[45.3,45.43],[46.12,46.4],[47.09,47.23],
[48.2,51.51],
[54.69,55.65],[56.07,56.34],[56.76,57.31],[57.86,58.42],[58.97,59.52],[60.07,60.9],[61.45,62.01],[62.56,63.39],
[63.66,64.49],[65.04,66.43],[66.98,67.25],[67.8,68.63],[69.19,70.02],[70.57,71.12],[71.67,71.95],[72.5,73.33],[73.88,74.16],[74.71,75.54],[76.09,77.2],
[78.86,78.99],[79.68,79.96],[80.79,80.93],[81.62,81.89],[82.59,83.0],
[84.66,87.14],[87.56,89.63],
[90.32,91.29],[91.84,92.39],[93.08,93.63],[94.32,94.87],[95.7,96.26],[96.81,98.19],
[99.85,100.12],[102.33,104.82],[106.89,107.17],[107.86,108.27],[110.62,110.76],
[113.38,113.66],[114.48,114.76],[115.86,116.14],[116.83,117.11],[117.8,118.08],
[120.01,120.84],[121.39,122.49],[123.05,123.88],
[126.22,126.91],[127.88,128.57],[129.4,130.23],[131.06,132.16],[132.99,134.1]
];
const mirnaPositions = [0.51,1.98,7.04,28.22,43.65,57.22,61.15,63.4,63.9,64.36,69.89,71.96,74.72,78.62,90.15,92.44,93.37,110.87,121.45];
const mirnaLabels = [[7.04,"hsa-mir-302e"],[28.22,"hsa-mir-610"],[43.65,"hsa-mir-129-2"]];
const trackNames = ["Genes","Exons","CNVs","miRNA"];

// ---------- STYLE / LAYOUT ----------
const W = 1035, H = 469;
const FONT = "'Liberation Sans', Arial, sans-serif";
const stainColor = {w:"#ffffff", g10:"#e9e9e9", g25:"#c9c9c9", g50:"#a4a4a4", g75:"#8e8e8e", g100:"#262626"};
const darkStain = s => s === "g75" || s === "g100";
const X = {domain:[0, chromLength]};
const wrap = document.getElementById("wrap");
const baseStyle = {background:"transparent", fontFamily:FONT, overflow:"visible", maxWidth:"none"};
const add = el => wrap.appendChild(el);
const cenTaper = [[centromereBand[0],0],[centromereBand[1],0.42],[centromereBand[2],0]];

const probes = [...probesPArm, ...probesPArmExtra, ...probesPericentric, ...probesQProximal, ...probesAmplicon, ...probesQDistal, ...probesQDistalExtra];
const yMax = 2.52;

const fmtY = d => { if (d === 0) return "0"; const a = Math.abs(d); let s = a.toFixed(1); if (a < 1) s = s.slice(1); return (d < 0 ? "-" : "") + s; };
const fmtX = d => d === 0 ? "0" : d + " Mb";

// ---------- MAIN PLOT ----------
add(Plot.plot({
  width: W, height: H, marginLeft: 59, marginRight: 3, marginTop: 81, marginBottom: 18,
  x: X, y: {domain: [-yMax, yMax]},
  style: {...baseStyle, fontSize: "6px", color: "#333"},
  marks: [
    Plot.rect(gainRegions, {x1: d => d[0], x2: d => d[1], y1: 0, y2: yMax, fill: "#dcdcf9"}),
    Plot.rect(lossRegions, {x1: d => d[0], x2: d => d[1], y1: -yMax, y2: 0, fill: "#fcdde0"}),
    Plot.ruleX([centromereMb], {stroke: "#c4c4c4", strokeWidth: 2}),
    Plot.ruleY([1.0], {stroke: "#a9acf2", strokeWidth: 2}),
    Plot.ruleY([0.18], {stroke: "#7d7fe8", strokeWidth: 1}),
    Plot.ruleY([0], {stroke: "#6a6a6a", strokeWidth: 1}),
    Plot.ruleY([-0.2], {stroke: "#f0a3a8", strokeWidth: 1}),
    Plot.ruleY([-1.1], {stroke: "#e86c74", strokeWidth: 1}),
    Plot.dot(probes, {x: d => d[0], y: d => d[1], r: 1.25, fill: "#ea1b5d", stroke: null}),
    Plot.line(smoothTrend, {x: d => d[0], y: d => d[1], stroke: "#45b4dd", strokeWidth: 1.4, curve: "monotone-x"}),
    Plot.ruleY(segments, {y: d => d[2], x1: d => d[0], x2: d => d[1], stroke: "#111", strokeWidth: 1.6}),
    Plot.frame({stroke: "#8c8c8c"}),
    Plot.ruleX([0], {stroke: "#555"}),
    Plot.ruleY([-yMax], {stroke: "#555"}),
    Plot.axisY(yTicks, {tickFormat: fmtY, tickSize: 4, tickPadding: 3, label: null, color: "#444"}),
    Plot.axisX(xTicks, {tickFormat: fmtX, tickSize: 3, tickPadding: 2, label: null, color: "#444"})
  ]
}));

// ---------- HEADER: ideogram + tracks ----------
const IDEO = [11, 24];
const IDEO_MID = (IDEO[0] + IDEO[1]) / 2, IDEO_H = IDEO[1] - IDEO[0];
add(Plot.plot({
  width: W, height: 80, marginLeft: 59, marginRight: 3, marginTop: 0, marginBottom: 0,
  x: {...X, axis: null}, y: {domain: [0, 80], range: [0, 80], axis: null},
  style: {...baseStyle, fontSize: "6px"},
  marks: [
    Plot.rect(gainRegions, {x1: d => d[0], x2: d => d[1], y1: 5, y2: 7.3, fill: "#3434e6"}),
    Plot.ruleY(gainRegions.filter(d => d[0] > centromereMb), {y: 2.6, x1: d => d[0], x2: d => d[1], stroke: "#3434e6", strokeWidth: 2, strokeDasharray: "6,3"}),
    Plot.rect(bands, {x1: d => d[0], x2: d => d[1], y1: IDEO[0], y2: IDEO[1], fill: d => stainColor[d[3]]}),
    Plot.areaY(cenTaper, {x: d => d[0], y1: d => IDEO[0] + d[1] * IDEO_H, y2: d => IDEO[1] - d[1] * IDEO_H, fill: "#a4a4a4"}),
    Plot.line(cenTaper, {x: d => d[0], y: d => IDEO[0] + d[1] * IDEO_H, stroke: "#8a8a8a"}),
    Plot.line(cenTaper, {x: d => d[0], y: d => IDEO[1] - d[1] * IDEO_H, stroke: "#8a8a8a"}),
    Plot.rect([[0, centromereBand[0]], [centromereBand[2], chromLength]], {x1: d => d[0], x2: d => d[1], y1: IDEO[0], y2: IDEO[1], fill: "none", stroke: "#8a8a8a", rx: 5, ry: 5}),
    Plot.text(bands.filter(d => d[2]), {x: d => (d[0] + d[1]) / 2, y: IDEO_MID, text: d => d[2], fill: d => darkStain(d[3]) ? "#fff" : "#111", fontSize: 7.5}),
    Plot.rect(lossRegions, {x1: d => d[0], x2: d => d[1], y1: 26, y2: 28, fill: "#e8343f"}),
    Plot.rect(genes, {x1: d => d[0], x2: d => d[1], y1: 35, y2: 37.6, fill: "#fff", stroke: "#5656dc", strokeWidth: 0.7}),
    Plot.rect(genes, {x1: d => d[0], x2: d => d[1], y1: 43, y2: 45.6, fill: "#eeeefc", stroke: "#3a3ad2", strokeWidth: 0.8}),
    Plot.rect(cnvs, {x1: d => d[0], x2: d => d[1], y1: 51.3, y2: 53, fill: "#e055e0"}),
    Plot.ruleX(mirnaPositions, {y1: 60, y2: 63.5, stroke: "#333", strokeWidth: 0.8}),
    Plot.text(mirnaLabels, {x: d => d[0], y: 70, text: d => d[1], fontSize: 5.5, fill: "#333"})
  ]
}));

// track names
add(Plot.plot({
  width: 60, height: 80, marginLeft: 0, marginRight: 0, marginTop: 0, marginBottom: 0,
  x: {domain: [0, 60], range: [0, 60], axis: null}, y: {domain: [0, 80], range: [0, 80], axis: null},
  style: {...baseStyle},
  marks: [
    Plot.text(trackNames, {x: 5, y: (d, i) => [39.5, 48.5, 57, 65.5][i], text: d => d, textAnchor: "start", fontSize: 5.5, fill: "#333"})
  ]
}));

// ---------- LEFT vertical ideogram ----------
const VX = [13, 21];
const VW = VX[1] - VX[0];
add(Plot.plot({
  width: 40, height: H, marginLeft: 0, marginRight: 0, marginTop: 75, marginBottom: 7,
  x: {domain: [0, 40], range: [0, 40], axis: null},
  y: {domain: [0, chromLength], reverse: true, axis: null},
  style: {...baseStyle},
  marks: [
    Plot.rect(bands, {x1: VX[0], x2: VX[1], y1: d => d[0], y2: d => d[1], fill: d => stainColor[d[3]]}),
    Plot.areaX(cenTaper, {y: d => d[0], x1: d => VX[0] + d[1] * VW, x2: d => VX[1] - d[1] * VW, fill: "#a4a4a4"}),
    Plot.line(cenTaper, {y: d => d[0], x: d => VX[0] + d[1] * VW, stroke: "#8a8a8a"}),
    Plot.line(cenTaper, {y: d => d[0], x: d => VX[1] - d[1] * VW, stroke: "#8a8a8a"}),
    Plot.rect([[0, centromereBand[0]], [centromereBand[2], chromLength]], {x1: VX[0], x2: VX[1], y1: d => d[0], y2: d => d[1], fill: "none", stroke: "#8a8a8a", rx: 3, ry: 3}),
    Plot.rect(sideLoss, {x1: 6.8, x2: 9.2, y1: d => d[0], y2: d => d[1], fill: "#e8343f"}),
    Plot.ruleX(sideGain, {x: 24.6, y1: d => d[0], y2: d => d[1], stroke: "#3434e6", strokeWidth: 1.6, strokeDasharray: "2,1.5"}),
    Plot.ruleX(sideGain.filter(d => d[1] - d[0] > 2), {x: 26.4, y1: d => d[0], y2: d => d[1], stroke: "#3434e6", strokeWidth: 1.2, strokeDasharray: "1.5,2"})
  ]
}));
</script></body></html>
